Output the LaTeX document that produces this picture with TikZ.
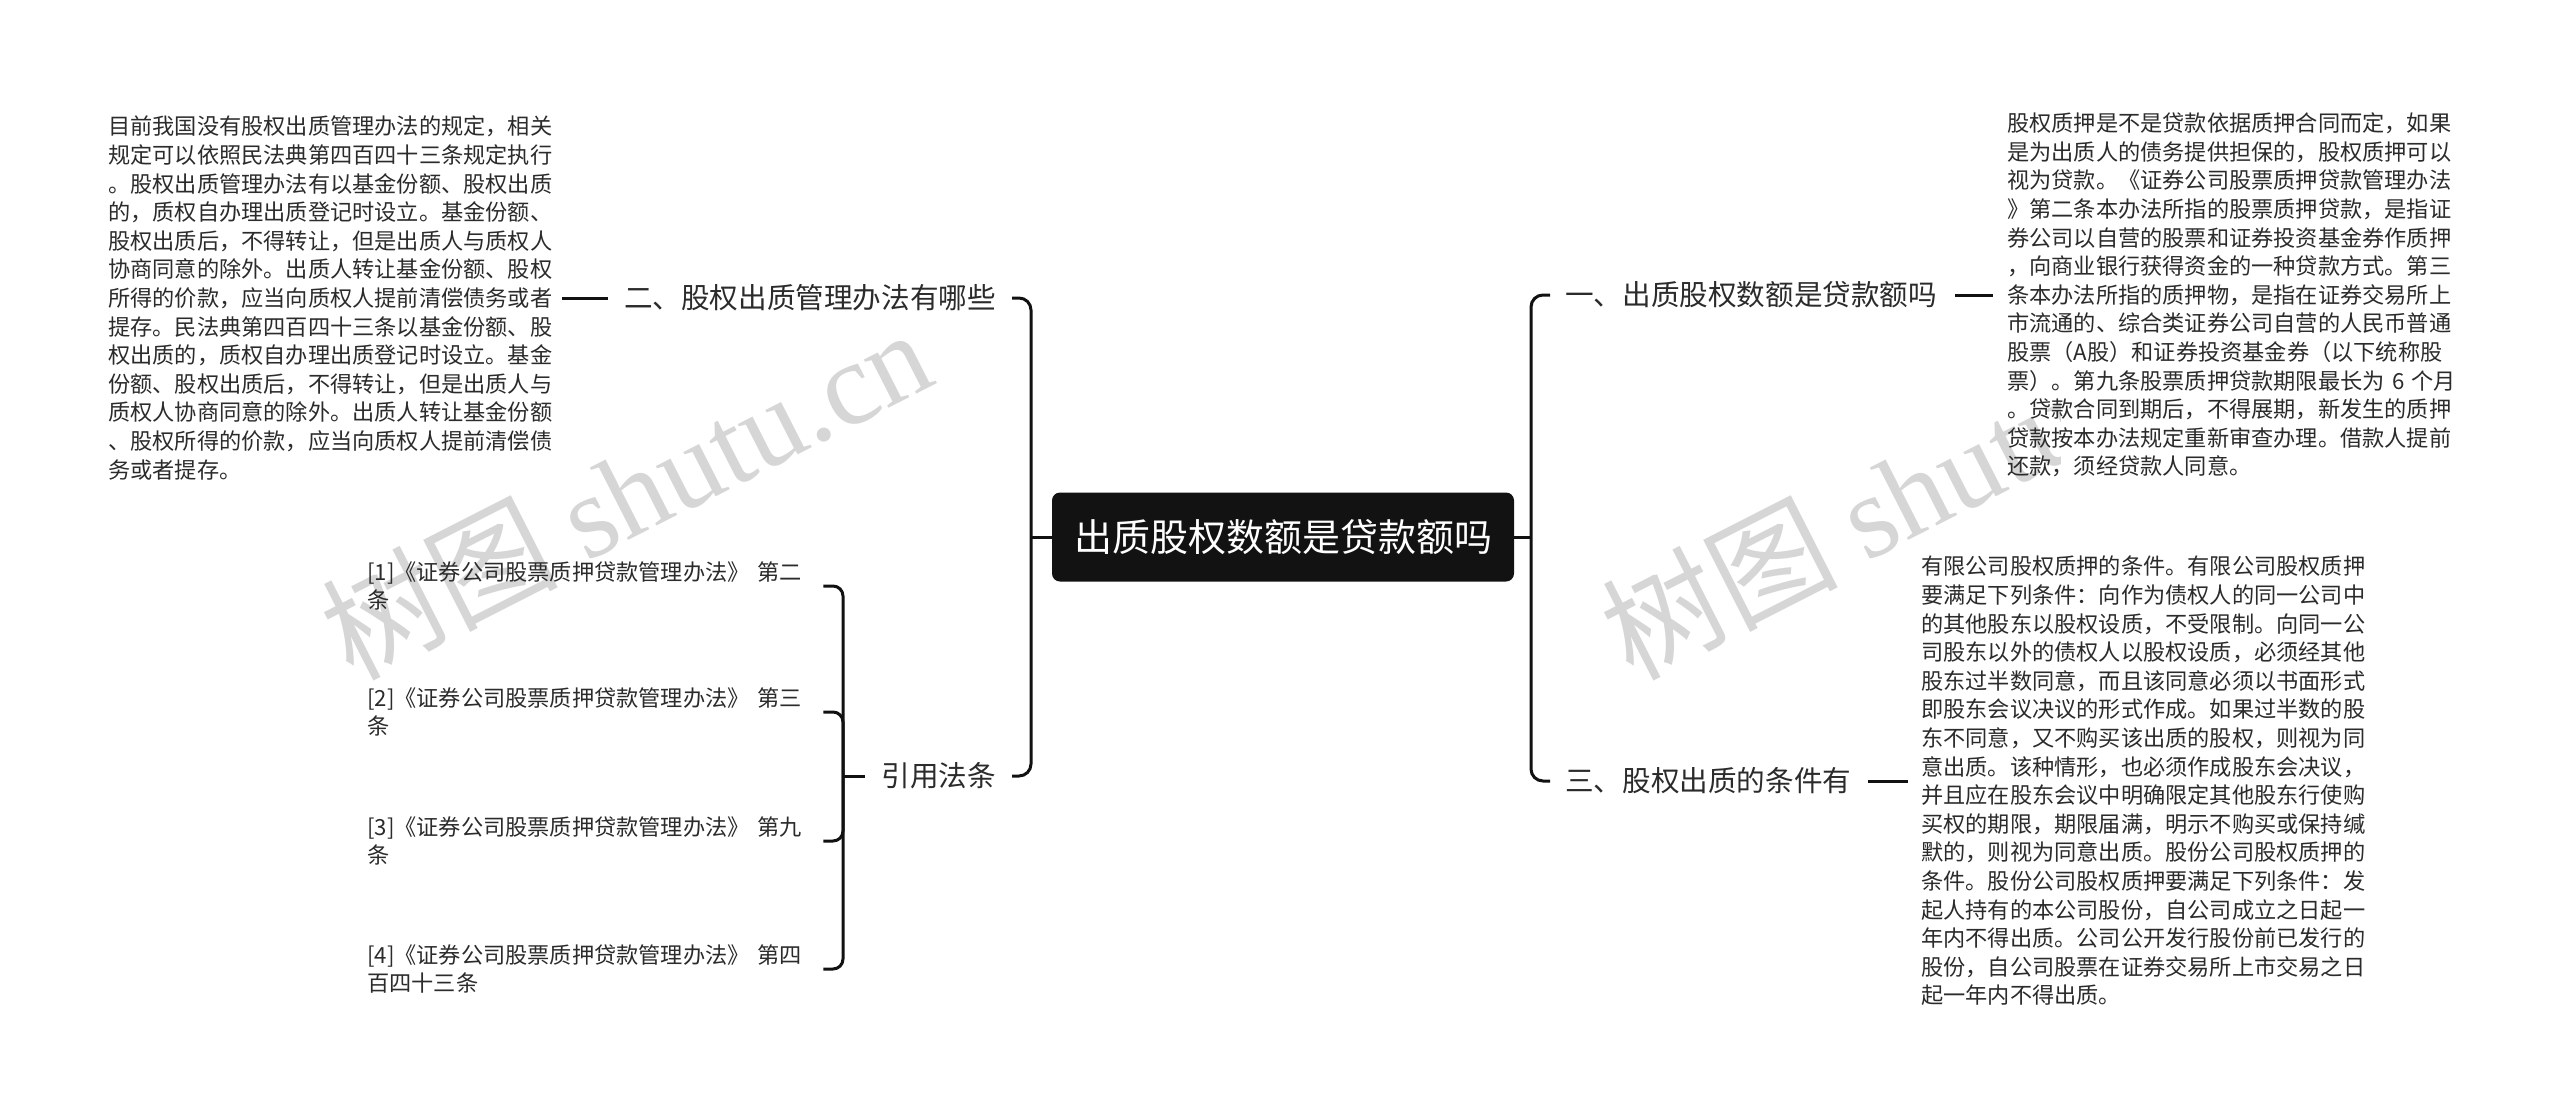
\documentclass[tikz,border=0pt]{standalone}
\usepackage{fontspec}
\setmainfont{Noto Sans CJK SC}
\newfontfamily\wmserif{Liberation Serif}
\definecolor{txtc}{HTML}{2B2B2B}
\definecolor{rootc}{HTML}{121212}
\definecolor{linec}{HTML}{111111}
\definecolor{wmc}{HTML}{D6D6D6}
\begin{document}
\begin{tikzpicture}[x=1pt,y=-1pt,
  conn/.style={line width=3pt, draw=linec, rounded corners=12pt},
  leaf/.style={inner sep=0pt, align=left, font=\fontsize{22.2}{28.6}\selectfont, text=txtc, anchor=west},
  branch/.style={inner sep=0pt, font=\fontsize{28.6}{34}\selectfont, text=txtc},
  root/.style={fill=rootc, rounded corners=8pt, text=white, font=\fontsize{38}{44}\selectfont, minimum width=462pt, minimum height=89pt, inner sep=0pt},
  wm/.style={text=wmc, font=\fontsize{118}{130}\selectfont, inner sep=0pt, rotate=27, anchor=base west}
]
\fill[white] (0,0) rectangle (2560,1117);
\useasboundingbox (0,0) rectangle (2560,1117);

% watermarks
\node[wm] (wmL) at (352,682) {树图 {\wmserif shutu.cn}};
\begin{scope}
\clip (1500,300) rectangle (2060,800);
\node[wm] (wmR) at (1632,682) {树图 {\wmserif shutu.cn}};
\end{scope}

% root
\node[root] (root) at (1283,537) {出质股权数额是贷款额吗};

% branches
\node[branch, anchor=east] (b2) at (996,298) {二、股权出质管理办法有哪些};
\node[branch, anchor=east] (b4) at (996,776) {引用法条};
\node[branch, anchor=west] (b1) at (1565,295) {一、出质股权数额是贷款额吗};
\node[branch, anchor=west] (b3) at (1565,781) {三、股权出质的条件有};

% leaves
\node[leaf, text width=444pt] (L2) at (108,298) {目前我国没有股权出质管理办法的规定，相关\\
规定可以依照民法典第四百四十三条规定执行\\
。股权出质管理办法有以基金份额、股权出质\\
的，质权自办理出质登记时设立。基金份额、\\
股权出质后，不得转让，但是出质人与质权人\\
协商同意的除外。出质人转让基金份额、股权\\
所得的价款，应当向质权人提前清偿债务或者\\
提存。民法典第四百四十三条以基金份额、股\\
权出质的，质权自办理出质登记时设立。基金\\
份额、股权出质后，不得转让，但是出质人与\\
质权人协商同意的除外。出质人转让基金份额\\
、股权所得的价款，应当向质权人提前清偿债\\
务或者提存。};

\node[leaf, text width=444pt] (L1) at (2007,295) {股权质押是不是贷款依据质押合同而定，如果\\
是为出质人的债务提供担保的，股权质押可以\\
视为贷款。《证券公司股票质押贷款管理办法\\
》第二条本办法所指的股票质押贷款，是指证\\
券公司以自营的股票和证券投资基金券作质押\\
，向商业银行获得资金的一种贷款方式。第三\\
条本办法所指的质押物，是指在证券交易所上\\
市流通的、综合类证券公司自营的人民币普通\\
股票（A股）和证券投资基金券（以下统称股\\
票）。第九条股票质押贷款期限最长为~6~个月\\
。贷款合同到期后，不得展期，新发生的质押\\
贷款按本办法规定重新审查办理。借款人提前\\
还款，须经贷款人同意。};

\node[leaf, text width=444pt] (L3) at (1921,781) {有限公司股权质押的条件。有限公司股权质押\\
要满足下列条件：向作为债权人的同一公司中\\
的其他股东以股权设质，不受限制。向同一公\\
司股东以外的债权人以股权设质，必须经其他\\
股东过半数同意，而且该同意必须以书面形式\\
即股东会议决议的形式作成。如果过半数的股\\
东不同意，又不购买该出质的股权，则视为同\\
意出质。该种情形，也必须作成股东会决议，\\
并且应在股东会议中明确限定其他股东行使购\\
买权的期限，期限届满，明示不购买或保持缄\\
默的，则视为同意出质。股份公司股权质押的\\
条件。股份公司股权质押要满足下列条件：发\\
起人持有的本公司股份，自公司成立之日起一\\
年内不得出质。公司公开发行股份前已发行的\\
股份，自公司股票在证券交易所上市交易之日\\
起一年内不得出质。};

% citations
\node[leaf, text width=440pt] (c1) at (367,586) {[1]《证券公司股票质押贷款管理办法》~第二\\条};
\node[leaf, text width=440pt] (c2) at (367,712) {[2]《证券公司股票质押贷款管理办法》~第三\\条};
\node[leaf, text width=440pt] (c3) at (367,841) {[3]《证券公司股票质押贷款管理办法》~第九\\条};
\node[leaf, text width=440pt] (c4) at (367,969) {[4]《证券公司股票质押贷款管理办法》~第四\\百四十三条};

% connectors
\coordinate (tl) at (1031,537);
\coordinate (tr) at (1531,537);
\coordinate (tc) at (843,776);

\draw[conn] (root.west) -- (tl);
\draw[conn] ([xshift=16pt]b2.east) -| (tl) |- ([xshift=16pt]b4.east);
\draw[conn] (root.east) -- (tr);
\draw[conn] ([xshift=-15pt]b1.west) -| (tr) |- ([xshift=-15pt]b3.west);

\draw[conn] ([xshift=-16pt]b2.west) -- ([xshift=10pt]L2.east);
\draw[conn] ([xshift=18pt]b1.east) -- ([xshift=-14pt]L1.west);
\draw[conn] ([xshift=17pt]b3.east) -- ([xshift=-13pt]L3.west);

\draw[conn] ([xshift=-16pt]b4.west) -- (tc);
\draw[conn, rounded corners=10pt] ([xshift=16pt]c1.east) -| (tc) |- ([xshift=16pt]c4.east);
\draw[conn, rounded corners=10pt] ([xshift=16pt]c2.east) -| (tc);
\draw[conn, rounded corners=10pt] ([xshift=16pt]c3.east) -| (tc);
\end{tikzpicture}
\end{document}
